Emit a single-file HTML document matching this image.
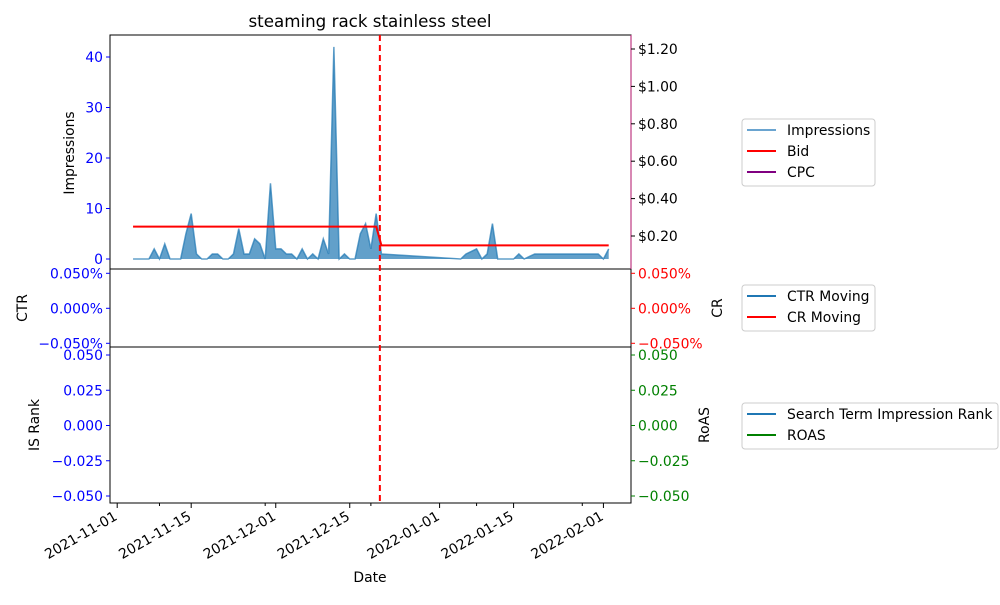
<!DOCTYPE html>
<html><head><meta charset="utf-8"><style>
body{margin:0;background:#fff}
svg text{font-family:"DejaVu Sans","Liberation Sans",sans-serif}
</style></head><body>
<svg id="chart" width="1000" height="600" xmlns="http://www.w3.org/2000/svg"></svg>
<script>
// ---- data ----
const impDays = [3,4,5,6,7,8,9,10,11,12,13,14,15,16,17,18,19,20,21,22,23,24,25,26,27,28,29,30,31,32,33,34,35,36,37,38,39,40,41,42,43,44,45,46,47,48,49,50,65,66,67,68,69,70,71,72,73,74,75,76,77,78,79,80,81,82,83,84,85,86,87,88,89,90,91,92,93];
const impValues = [0,0,0,0,2,0,3,0,0,0,5,9,1,0,0,1,1,0,0,1,6,1,1,4,3,0,15,2,2,1,1,0,2,0,1,0,4,1,42,0,1,0,0,5,7,2,9,1,0,1,1.5,2,0,1,7,0,0,0,0,1,0,0.5,1,1,1,1,1,1,1,1,1,1,1,1,1,0,2];
const bidDays = [3,49,50,93];
const bidValues = [0.25,0.25,0.15,0.15];
const markerDay = 49.7;
const majorTickDays = [0,14,30,44,61,75,92];
const majorTickLabels = ["2021-11-01","2021-11-15","2021-12-01","2021-12-15","2022-01-01","2022-01-15","2022-02-01"];
const minorTickDays = [8,28,48,68,88];
const impTicks = [0,10,20,30,40];
const bidTicks = [0.2,0.4,0.6,0.8,1.0,1.2];
const pctTicks = [0.05,0,-0.05];
const rankTicks = [0.05,0.025,0,-0.025,-0.05];

const svg = document.getElementById('chart');
const NS = 'http://www.w3.org/2000/svg';
function mk(tag, attrs, parent){const e=document.createElementNS(NS,tag);for(const k in attrs)e.setAttribute(k,attrs[k]);(parent||svg).appendChild(e);return e;}
const L=110,R=631;
const FS=13.9;
const x = d => 117.2 + d*5.285;
const yImp = v => 259 - v*5.05;
const yBid = v => 273.4 - v*187/1.0;
const yPct = v => 308.3 - v*700;
const yRank = v => 425.5 - v*1410;

let t=mk('text',{x:370,y:27,'text-anchor':'middle','font-size':16.7});t.textContent='steaming rack stainless steel';


let pts = impDays.map((d,i)=>x(d)+','+yImp(impValues[i]));
let area = mk('polygon',{points:x(impDays[0])+','+yImp(0)+' '+pts.join(' ')+' '+x(impDays[impDays.length-1])+','+yImp(0),fill:'#1f77b4','fill-opacity':0.7,stroke:'none'});

let iline = mk('polyline',{points:pts.join(' '),fill:'none',stroke:'#1f77b4','stroke-opacity':0.7,'stroke-width':1.5});

let bl = mk('polyline',{points:bidDays.map((d,i)=>x(d)+','+yBid(bidValues[i])).join(' '),fill:'none',stroke:'red','stroke-width':2});


const panels=[[35,269,'top-panel'],[269,347,'middle-panel'],[347,503,'bottom-panel']];
panels.forEach(p=>{let r=mk('rect',{x:L,y:p[0],width:R-L,height:p[1]-p[0],fill:'none',stroke:'#000','stroke-width':1});
});
mk('line',{x1:R,y1:35,x2:R,y2:269,stroke:'#b0106a','stroke-width':1});

let ml=mk('line',{x1:x(markerDay),y1:35,x2:x(markerDay),y2:503,stroke:'red','stroke-width':2,'stroke-dasharray':'6,4'});


function ytick(side,y,label,color,name){
  const xx = side==='l'?L:R;
  mk('line',{x1:xx,y1:y,x2:side==='l'?xx-4:xx+4,y2:y,stroke:color});
  let tx=mk('text',{x:side==='l'?xx-7:xx+7,y:y+5,'text-anchor':side==='l'?'end':'start','font-size':FS,fill:color});
  tx.textContent=label;
  
}
impTicks.forEach(v=>ytick('l',yImp(v),String(v),'blue','impressions-tick'));
bidTicks.forEach(v=>ytick('r',yBid(v),'$'+v.toFixed(2),'#000','bid-tick'));
pctTicks.forEach(v=>ytick('l',yPct(v),(v<0?'\u2212':'')+Math.abs(v).toFixed(3)+'%','blue','ctr-tick'));
pctTicks.forEach(v=>ytick('r',yPct(v),(v<0?'\u2212':'')+Math.abs(v).toFixed(3)+'%','red','cr-tick'));
rankTicks.forEach(v=>ytick('l',yRank(v),(v<0?'\u2212':'')+Math.abs(v).toFixed(3),'blue','rank-tick'));
rankTicks.forEach(v=>ytick('r',yRank(v),(v<0?'\u2212':'')+Math.abs(v).toFixed(3),'green','roas-tick'));

majorTickDays.forEach((d,i)=>{
  mk('line',{x1:x(d),y1:503,x2:x(d),y2:508,stroke:'#000'});
  const ax=x(d)+1, ay=519;
  let tx=mk('text',{x:ax,y:ay,'text-anchor':'end','font-size':FS,transform:'rotate(-30 '+ax+' '+ay+')'});
  tx.textContent=majorTickLabels[i];
  
});
minorTickDays.forEach(d=>mk('line',{x1:x(d),y1:503,x2:x(d),y2:506,stroke:'#000'}));

function lab(txt,xx,yy,rot,name){let a={x:xx,y:yy,'text-anchor':'middle','font-size':FS};if(rot)a.transform='rotate(-90 '+xx+' '+yy+')';
 let e=mk('text',a);e.textContent=txt;}
lab('Impressions',74,153,true,'impressions-axis-title');
lab('CTR',27,308,true,'ctr-axis-title');
lab('CR',722,308,true,'cr-axis-title');
lab('IS Rank',39,425,true,'is-rank-axis-title');
lab('RoAS',709,425,true,'roas-axis-title');
lab('Date',370,582,false,'x-axis-title');

function legend(x0,y0,w,entries,name){
  const g=mk('g',{});
  mk('rect',{x:x0,y:y0,width:w,height:entries.length*21+4,rx:3,fill:'#fff',stroke:'#ccc'},g);
  entries.forEach((e,i)=>{const yy=y0+11+i*21;
    mk('line',{x1:x0+5,y1:yy,x2:x0+34,y2:yy,stroke:e[1],'stroke-width':2},g);
    let tx=mk('text',{x:x0+45,y:yy+5,'font-size':FS},g);tx.textContent=e[0];});
}
legend(742,119,133,[['Impressions','#6aa4d0'],['Bid','red'],['CPC','purple']],'legend-top');
legend(742,285,133,[['CTR Moving','#1f77b4'],['CR Moving','red']],'legend-middle');
legend(742,403,256,[['Search Term Impression Rank','#1f77b4'],['ROAS','green']],'legend-bottom');
</script>
</body></html>
